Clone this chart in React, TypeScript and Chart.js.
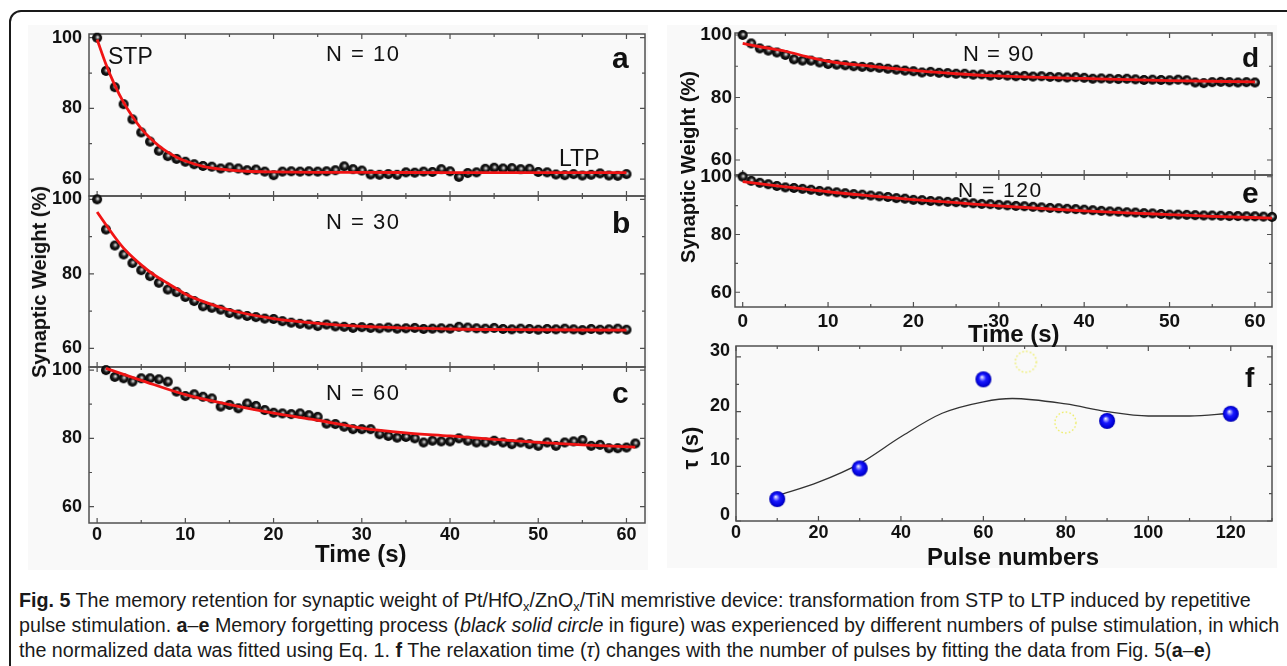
import React, { useEffect, useRef } from 'react';
import { Chart, registerables } from 'chart.js';
Chart.register(...registerables);

// ---------------- data ----------------
const timeAB = [0,1,2,3,4,5,6,7,8,9,10,11,12,13,14,15,16,17,18,19,20,21,22,23,24,25,26,27,28,29,30,31,32,33,34,35,36,37,38,39,40,41,42,43,44,45,46,47,48,49,50,51,52,53,54,55,56,57,58,59,60];
const timeC = [1,2,3,4,5,6,7,8,9,10,11,12,13,14,15,16,17,18,19,20,21,22,23,24,25,26,27,28,29,30,31,32,33,34,35,36,37,38,39,40,41,42,43,44,45,46,47,48,49,50,51,52,53,54,55,56,57,58,59,60,61];
const timeD = [0,1,2,3,4,5,6,7,8,9,10,11,12,13,14,15,16,17,18,19,20,21,22,23,24,25,26,27,28,29,30,31,32,33,34,35,36,37,38,39,40,41,42,43,44,45,46,47,48,49,50,51,52,53,54,55,56,57,58,59,60];
const timeE = [0,1,2,3,4,5,6,7,8,9,10,11,12,13,14,15,16,17,18,19,20,21,22,23,24,25,26,27,28,29,30,31,32,33,34,35,36,37,38,39,40,41,42,43,44,45,46,47,48,49,50,51,52,53,54,55,56,57,58,59,60,61,62];

const weightA = [100, 90.6, 86.0, 81.2, 76.9, 73.2, 70.6, 68.0, 66.5, 65.7,
  64.9, 64.2, 63.7, 63.5, 63.0, 63.3, 63.0, 62.5, 62.7, 62.1,
  61.1, 62.1, 62.2, 62.1, 62.2, 62.1, 62.2, 62.5, 63.6, 62.8,
  62.4, 61.3, 61.2, 61.4, 61.2, 61.9, 61.8, 62.1, 62.0, 62.8,
  62.2, 60.6, 61.7, 61.9, 62.9, 63.2, 63.0, 63.1, 62.8, 62.9,
  62.0, 61.9, 61.3, 61.1, 61.4, 61.0, 61.2, 61.6, 61.0, 60.9,
  61.4];
const weightB = [100, 91.9, 87.6, 85.2, 82.9, 81.0, 79.4, 77.6, 75.8, 75.1,
  73.8, 72.7, 71.3, 70.9, 70.4, 69.5, 69.1, 68.7, 68.4, 68.0,
  67.9, 67.3, 66.9, 66.6, 66.4, 66.0, 66.4, 65.9, 65.8, 65.5,
  65.7, 65.5, 65.4, 65.6, 65.3, 65.4, 65.5, 65.2, 65.3, 65.4,
  65.3, 65.8, 65.6, 65.4, 65.3, 65.5, 65.2, 65.1, 65.3, 65.2,
  65.0, 65.2, 65.1, 65.3, 65.1, 64.9, 65.2, 65.0, 65.1, 65.3,
  65.0];
const weightC = [100, 98.0, 97.6, 96.6, 97.6, 97.6, 97.3, 96.6, 93.7, 92.4,
  92.9, 92.2, 91.7, 89.3, 89.8, 88.8, 90.2, 89.5, 88.3, 87.5,
  87.3, 87.1, 87.3, 86.8, 86.3, 84.3, 84.2, 83.4, 82.7, 82.7,
  82.7, 81.2, 80.7, 80.2, 80.4, 80.0, 78.8, 79.3, 79.1, 79.1,
  80.0, 79.3, 78.8, 78.8, 79.3, 78.8, 78.3, 78.8, 78.3, 77.8,
  78.8, 77.8, 78.8, 79.1, 79.5, 77.8, 78.1, 77.1, 77.1, 77.3,
  78.5];
const weightD = [100, 97.3, 95.7, 95.0, 94.4, 93.6, 92.2, 91.8, 91.8, 91.2,
  90.7, 90.5, 90.3, 90.0, 89.8, 89.7, 89.5, 89.2, 88.9, 88.6,
  88.4, 88.0, 88.2, 87.9, 87.8, 87.6, 87.6, 87.3, 87.4, 87.0,
  87.2, 87.0, 86.8, 86.9, 86.7, 86.8, 86.6, 86.5, 86.4, 86.5,
  86.3, 86.0, 86.1, 86.0, 85.9, 86.0, 85.8, 85.6, 85.7, 85.6,
  85.5, 85.7, 85.5, 84.8, 84.6, 84.9, 85.0, 84.9, 84.8, 84.9,
  84.8];
const weightE = [100, 98.6, 97.9, 97.4, 96.8, 96.3, 96.1, 95.8, 95.5, 95.1,
  94.9, 94.6, 94.3, 94.0, 93.8, 93.5, 93.2, 93.0, 92.6, 92.4,
  92.0, 91.9, 91.6, 91.5, 91.3, 91.2, 91.0, 90.8, 90.6, 90.5,
  90.3, 90.1, 89.9, 89.8, 89.6, 89.4, 89.2, 89.1, 88.9, 88.8,
  88.6, 88.4, 88.2, 88.0, 87.9, 87.7, 87.6, 87.4, 87.3, 87.1,
  86.9, 86.9, 86.8, 86.7, 86.6, 86.6, 86.5, 86.4, 86.4, 86.3,
  86.3, 86.2, 86.1];

const fitTimeA = [0,1,2,3,4,5,6,7,8,9,10,12,14,17,20,25,30,40,50,60];
const fitA = [99.5,92.5,86.6,81.7,77.7,74.3,71.6,69.4,67.6,66.2,65.1,63.6,62.8,62.2,62.0,61.9,61.9,61.8,61.8,61.8];
const fitTimeB = [0,1,2,3,4,5,6,7,8,10,12,15,20,25,30,40,50,60];
const fitB = [96.6,93.2,89.9,86.9,84.5,82.4,80.5,78.9,77.5,74.6,72.6,70.3,68.0,66.7,65.9,65.2,65.0,64.9];
const fitTimeC = [1,5,10,15,20,25,30,35,40,45,50,55,61];
const fitC = [100.5,97.0,92.8,89.9,87.4,85.3,83.0,81.6,80.7,79.7,78.8,78.1,77.4];
const fitTimeD = [0,2.5,5,7.5,10,15,20,25,30,40,50,60];
const fitD = [97.3,96.0,94.8,93.1,91.6,90.0,88.7,87.6,86.9,86.1,85.4,85.0];
const fitTimeE = [0,5,10,15,20,25,30,35,40,45,50,55,62];
const fitE = [98.3,96.5,94.8,93.4,92.1,91.0,89.9,89.0,88.2,87.5,86.9,86.3,85.7];

const pulses = [10, 30, 60, 90, 120];
const tau = [4.0, 9.6, 25.9, 18.3, 19.6];
const fitPulse = [10,20,30,40,50,60,67,80,90,100,110,120];
const fitTau = [4.6,7.1,10.5,15.4,19.7,21.8,22.4,21.4,20.0,19.2,19.2,19.7];
const ghostPulse = [70.3, 79.9];
const ghostTau = [29.1, 18.0];

const timeTicks = [0,5,10,15,20,25,30,35,40,45,50,55,60];
const timeLabels = [0,10,20,30,40,50,60];
const weightTicks = [60,70,80,90,100];
const weightLabels = [60,80,100];
const pulseTicks = [0,10,20,30,40,50,60,70,80,90,100,110,120,130];
const pulseLabels = [0,20,40,60,80,100,120];
const tauTicks = [0,5,10,15,20,25,30];
const tauLabels = [0,10,20,30];

// ---------------- helpers ----------------
const FONT = '"Liberation Sans", Arial, Helvetica, sans-serif';
const LEFT = 70, PT = 24, PR = 20, BOTTOM = 40;

const pts = (xs: number[], ys: number[]) => ys.map((y, i) => ({ x: xs[i], y }));

function sphere(r: number, stops: [number, string][], hx: number, hy: number) {
  const s = Math.ceil(2 * r) + 2;
  const c = document.createElement('canvas');
  c.width = s; c.height = s;
  const g = c.getContext('2d')!;
  const cx = s / 2, cy = s / 2;
  const grad = g.createRadialGradient(cx + hx * r, cy + hy * r, 0, cx, cy, r);
  stops.forEach(([o, col]) => grad.addColorStop(o, col));
  g.fillStyle = grad;
  g.beginPath(); g.arc(cx, cy, r, 0, Math.PI * 2); g.fill();
  return c;
}

function ring(r: number) {
  const s = Math.ceil(2 * r) + 4;
  const c = document.createElement('canvas');
  c.width = s; c.height = s;
  const g = c.getContext('2d')!;
  g.setLineDash([1.6, 2.2]);
  g.strokeStyle = 'rgba(236,236,90,0.95)';
  g.lineWidth = 1.3;
  g.beginPath(); g.arc(s / 2, s / 2, r, 0, Math.PI * 2); g.stroke();
  return c;
}

const framePlugin = {
  id: 'frameTicks',
  beforeDatasetsDraw(chart: any, _args: any, opts: any) {
    const { ctx, chartArea } = chart;
    const { left, right, top, bottom } = chartArea;
    const xs = chart.scales.x, ys = chart.scales.y;
    ctx.save();
    ctx.strokeStyle = '#505050';
    ctx.lineWidth = 1.5;
    ctx.strokeRect(left, top, right - left, bottom - top);
    ctx.lineWidth = 1.2;
    ctx.beginPath();
    xs.ticks.forEach((t: any) => {
      const px = xs.getPixelForValue(t.value);
      const len = opts.xMajor.includes(t.value) ? 5 : 3;
      ctx.moveTo(px, bottom); ctx.lineTo(px, bottom - len);
      ctx.moveTo(px, top); ctx.lineTo(px, top + len);
    });
    ys.ticks.forEach((t: any) => {
      const py = ys.getPixelForValue(t.value);
      const len = opts.yMajor.includes(t.value) ? 5 : 3;
      ctx.moveTo(left, py); ctx.lineTo(left + len, py);
      ctx.moveTo(right, py); ctx.lineTo(right - len, py);
    });
    ctx.stroke();
    ctx.restore();
  },
};

type Spec = {
  id: string; l: number; t: number; r: number; b: number;
  xMin: number; xMax: number; yMin: number; yMax: number;
  xTicks: number[]; xLabels: number[]; yTicks: number[]; yLabels: number[];
  showX: boolean; font: number; yPad: number; xPad: number; yLabelOffset: number;
  datasets: () => any[];
};

const RED = '#f01414';
let blackBall: HTMLCanvasElement | null = null;
let blueBall: HTMLCanvasElement | null = null;
let ghost: HTMLCanvasElement | null = null;
function imgs() {
  if (!blackBall) {
    blackBall = sphere(5, [[0, '#f2f2f2'], [0.22, '#9a9a9a'], [0.5, '#1c1c1c'], [1, '#000']], 0.15, -0.15);
    blueBall = sphere(8, [[0, '#ffffff'], [0.18, '#a0a0ff'], [0.45, '#1a1aff'], [0.85, '#0000d8'], [1, '#0000a8']], -0.2, -0.3);
    ghost = ring(10.5);
  }
  return { blackBall: blackBall!, blueBall: blueBall!, ghost: ghost! };
}

function decay(fx: number[], fy: number[], tx: number[], wy: number[]) {
  return () => {
    const { blackBall } = imgs();
    return [
      { data: pts(fx, fy), showLine: true, borderColor: RED, borderWidth: 2.8, pointRadius: 0, cubicInterpolationMode: 'monotone', order: 0, clip: false },
      { data: pts(tx, wy), pointStyle: blackBall, pointRadius: 5, order: 1, clip: false },
    ];
  };
}

const specs: Spec[] = [
  { id: 'a', l: 89, t: 34, r: 645, b: 196, xMin: -0.92, xMax: 62.1, yMin: 55.2, yMax: 101.05,
    xTicks: timeTicks, xLabels: timeLabels, yTicks: weightTicks, yLabels: weightLabels,
    showX: false, font: 18, yPad: 7, xPad: 1, yLabelOffset: 0, datasets: decay(fitTimeA, fitA, timeAB, weightA) },
  { id: 'b', l: 89, t: 196, r: 645, b: 367, xMin: -0.92, xMax: 62.1, yMin: 55.0, yMax: 100.9,
    xTicks: timeTicks, xLabels: timeLabels, yTicks: weightTicks, yLabels: weightLabels,
    showX: false, font: 18, yPad: 7, xPad: 1, yLabelOffset: 0, datasets: decay(fitTimeB, fitB, timeAB, weightB) },
  { id: 'c', l: 89, t: 367, r: 645, b: 523, xMin: -0.92, xMax: 62.1, yMin: 55.2, yMax: 100.9,
    xTicks: timeTicks, xLabels: timeLabels, yTicks: weightTicks, yLabels: weightLabels,
    showX: true, font: 18, yPad: 7, xPad: 1, yLabelOffset: 0, datasets: decay(fitTimeC, fitC, timeC, weightC) },
  { id: 'd', l: 735, t: 33, r: 1272, b: 175, xMin: -0.9, xMax: 62.0, yMin: 55.2, yMax: 100.64,
    xTicks: timeTicks, xLabels: timeLabels, yTicks: weightTicks, yLabels: weightLabels,
    showX: false, font: 19, yPad: 3, xPad: 3, yLabelOffset: 0, datasets: decay(fitTimeD, fitD, timeD, weightD) },
  { id: 'e', l: 735, t: 175, r: 1272, b: 307, xMin: -0.9, xMax: 62.0, yMin: 54.9, yMax: 100.6,
    xTicks: timeTicks, xLabels: timeLabels, yTicks: weightTicks, yLabels: weightLabels,
    showX: true, font: 19, yPad: 3, xPad: 3, yLabelOffset: 0, datasets: decay(fitTimeE, fitE, timeE, weightE) },
  { id: 'f', l: 736, t: 346, r: 1272, b: 521, xMin: 0, xMax: 130, yMin: 0, yMax: 32.0,
    xTicks: pulseTicks, xLabels: pulseLabels, yTicks: tauTicks, yLabels: tauLabels,
    showX: true, font: 18, yPad: 6, xPad: 1.5, yLabelOffset: -6,
    datasets: () => {
      const { blueBall, ghost } = imgs();
      return [
        { data: pts(pulses, tau), pointStyle: blueBall, pointRadius: 8, order: 0, clip: false },
        { data: pts(fitPulse, fitTau), showLine: true, borderColor: '#333', borderWidth: 1.3, pointRadius: 0, cubicInterpolationMode: 'monotone', order: 1 },
        { data: pts(ghostPulse, ghostTau), pointStyle: ghost, pointRadius: 10, order: 2, clip: false },
      ];
    } },
];

function Panel({ spec }: { spec: Spec }) {
  const ref = useRef<HTMLCanvasElement>(null);
  const W = spec.r - spec.l + LEFT + PR;
  const H = spec.b - spec.t + PT + BOTTOM;
  useEffect(() => {
    const font = { family: FONT, size: spec.font, weight: 'bold' as const };
    const chart = new Chart(ref.current!, {
      type: 'scatter',
      data: { datasets: spec.datasets() },
      options: {
        responsive: false,
        animation: false,
        events: [],
        layout: { padding: { top: PT, right: PR, left: 0, bottom: 0 } },
        plugins: {
          legend: { display: false },
          tooltip: { enabled: false },
          frameTicks: { xMajor: spec.xLabels, yMajor: spec.yLabels },
        } as any,
        scales: {
          x: {
            type: 'linear', min: spec.xMin, max: spec.xMax, bounds: 'data',
            grid: { display: false, drawTicks: false },
            border: { display: false },
            afterBuildTicks: (s: any) => { s.ticks = spec.xTicks.map((v) => ({ value: v })); },
            afterFit: (s: any) => { s.height = BOTTOM; },
            ticks: {
              display: spec.showX, autoSkip: false, maxRotation: 0, padding: spec.xPad, color: '#111', font,
              callback: (v: any) => (spec.xLabels.includes(v) ? String(v) : ''),
            },
          },
          y: {
            type: 'linear', min: spec.yMin, max: spec.yMax, bounds: 'data',
            grid: { display: false, drawTicks: false },
            border: { display: false },
            afterBuildTicks: (s: any) => { s.ticks = spec.yTicks.map((v) => ({ value: v })); },
            afterFit: (s: any) => { s.width = LEFT; },
            ticks: {
              autoSkip: false, padding: spec.yPad, color: '#111', font, labelOffset: spec.yLabelOffset,
              callback: (v: any) => (spec.yLabels.includes(v) ? String(v) : ''),
            },
          },
        },
      } as any,
      plugins: [framePlugin as any],
    });
    return () => chart.destroy();
  }, []);
  return (
    <canvas ref={ref} width={W} height={H}
      style={{ position: 'absolute', left: spec.l - LEFT, top: spec.t - PT, width: W, height: H }} />
  );
}

function T({ x, base, size, bold, text, ls }: { x: number; base: number; size: number; bold?: boolean; text: string; ls?: number }) {
  return (
    <div style={{ position: 'absolute', left: x, top: base - 0.8465 * size, fontSize: size, lineHeight: `${size}px`,
      fontWeight: bold ? 'bold' : 'normal', whiteSpace: 'nowrap', letterSpacing: ls || 0, color: '#111' }}>{text}</div>
  );
}

function R({ cx, cy, size, text }: { cx: number; cy: number; size: number; text: string }) {
  return (
    <div style={{ position: 'absolute', left: cx, top: cy, transform: 'translate(-50%,-50%) rotate(-90deg)', fontSize: size,
      lineHeight: 1, fontWeight: 'bold', whiteSpace: 'nowrap', color: '#111' }}>{text}</div>
  );
}

const CAP = '"Liberation Sans", Arial, sans-serif';
const sub = { fontSize: '0.65em', verticalAlign: '-0.3em', lineHeight: 0 } as const;

function CapLine({ base, children }: { base: number; children: React.ReactNode }) {
  const size = 19.7;
  return (
    <div style={{ position: 'absolute', left: 19, top: base - 0.8465 * size, fontFamily: CAP, fontSize: size,
      lineHeight: `${size}px`, whiteSpace: 'nowrap', color: '#1a1a1a' }}>{children}</div>
  );
}

export default function App() {
  return (
    <div style={{ position: 'fixed', left: 0, top: 0, width: 1287, height: 666, background: '#fff', overflow: 'hidden', fontFamily: FONT }}>
      <div style={{ position: 'absolute', left: 28, top: 25, width: 620, height: 545, background: '#f9f9f9' }} />
      <div style={{ position: 'absolute', left: 667, top: 25, width: 610, height: 543, background: '#f9f9f9' }} />
      {specs.map((s) => <Panel key={s.id} spec={s} />)}

      <T x={108} base={64} size={23} text="STP" />
      <T x={326} base={62} size={22} ls={1.5} text="N = 10" />
      <T x={612} base={68} size={30} bold text="a" />
      <T x={559} base={166} size={23} text="LTP" />
      <T x={326} base={230} size={22} ls={1.5} text="N = 30" />
      <T x={612} base={233} size={30} bold text="b" />
      <T x={326} base={401} size={22} ls={1.5} text="N = 60" />
      <T x={612} base={403} size={30} bold text="c" />
      <T x={963} base={62} size={22} ls={1} text="N = 90" />
      <T x={1242} base={68} size={28} bold text="d" />
      <T x={958} base={197} size={21} ls={1.5} text="N = 120" />
      <T x={1242} base={203} size={30} bold text="e" />
      <T x={1245} base={388} size={28} bold text="f" />
      <T x={315} base={562} size={24} bold text="Time (s)" />
      <T x={968} base={342} size={24} bold text="Time (s)" />
      <T x={927} base={565} size={24} bold text="Pulse numbers" />
      <R cx={38.5} cy={282} size={20} text="Synaptic Weight (%)" />
      <R cx={687.5} cy={166.5} size={20} text="Synaptic Weight (%)" />
      <R cx={691} cy={448} size={22} text="τ (s)" />

      <CapLine base={608}>
        <b>Fig. 5</b> The memory retention for synaptic weight of Pt/HfO<sub style={sub}>x</sub>/ZnO<sub style={sub}>x</sub>/TiN memristive device: transformation from STP to LTP induced by repetitive
      </CapLine>
      <CapLine base={633}>
        pulse stimulation. <b>a</b>–<b>e</b> Memory forgetting process (<i>black solid circle</i> in figure) was experienced by different numbers of pulse stimulation, in which
      </CapLine>
      <CapLine base={658}>
        the normalized data was fitted using Eq. 1. <b>f</b> The relaxation time (<i>τ</i>) changes with the number of pulses by fitting the data from Fig. 5(<b>a</b>–<b>e</b>)
      </CapLine>

      <div style={{ position: 'absolute', left: 9, top: 10, width: 1300, height: 700, border: '2px solid #1a1a1a', borderRadius: 12, pointerEvents: 'none' }} />
    </div>
  );
}
